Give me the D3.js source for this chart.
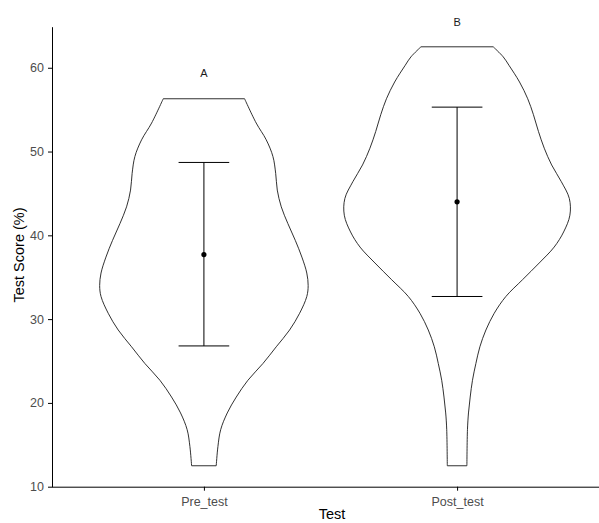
<!DOCTYPE html>
<head>
  <meta charset="utf-8">
  <title>Test Score Violin</title>
  <style>
    body { margin: 0; background: #fff; }
    .tick text { font-family: "Liberation Sans", Arial, sans-serif; font-size: 12.5px; fill: #4d4d4d; }
    .domain, .tick line { stroke: #000; }
  </style>
</head>
<body>
  <script src="https://cdn.jsdelivr.net/npm/d3@7/dist/d3.min.js"></script>
  <script>
    // data
    var groups = ["Pre_test", "Post_test"];
    var letters = ["A", "B"];
    var means = [37.7, 44.0];
    var lowerCI = [26.8, 32.7];
    var upperCI = [48.7, 55.3];
    var yTicks = [10, 20, 30, 40, 50, 60];

    // violin outlines: score and relative density (1 = widest violin)
    var preScore   = [12.5, 14.8, 16.8, 18.8, 20.7, 22.7, 24.7, 26.7, 28.7, 30.7, 32.7, 34.0, 35.5, 37.4, 39.4, 41.4, 43.4, 45.4, 47.4, 49.4, 51.4, 53.4, 56.3];
    var preDensity = [0.108, 0.123, 0.147, 0.205, 0.284, 0.386, 0.518, 0.635, 0.752, 0.840, 0.903, 0.915, 0.903, 0.860, 0.802, 0.737, 0.679, 0.644, 0.630, 0.606, 0.547, 0.459, 0.357];
    var postScore   = [12.5, 16.8, 18.8, 20.7, 22.7, 24.7, 26.7, 28.7, 30.7, 32.7, 34.7, 36.7, 38.6, 40.4, 42.4, 44.4, 46.4, 48.4, 50.4, 52.4, 54.4, 56.3, 58.3, 60.3, 61.3, 62.5];
    var postDensity = [0.086, 0.091, 0.100, 0.115, 0.135, 0.165, 0.200, 0.253, 0.326, 0.428, 0.574, 0.721, 0.852, 0.935, 0.990, 0.985, 0.915, 0.830, 0.765, 0.714, 0.670, 0.620, 0.548, 0.455, 0.405, 0.317];

    var violins = [
      { score: preScore, density: preDensity },
      { score: postScore, density: postDensity }
    ];

    var width = 599, height = 523;
    var margin = { left: 52, top: 26.7, bottom: 486.7, right: 609 };

    var svg = d3.select("body").append("svg")
      .attr("width", width)
      .attr("height", height)
      .style("overflow", "hidden");

    var x = d3.scalePoint().domain(groups).range([margin.left, margin.right]).padding(0.6);
    var y = d3.scaleLinear().domain([10, 64.9]).range([margin.bottom, margin.top]);
    var w = d3.scaleLinear().domain([0, 1]).range([0, x.step() * 0.45]);

    // violins
    violins.forEach(function (v, i) {
      var cx = x(groups[i]);
      var pts = v.score.map(function (s, j) { return { s: s, d: v.density[j] }; });
      var area = d3.area()
        .curve(d3.curveCatmullRom.alpha(0.5))
        .y(function (d) { return y(d.s); })
        .x0(function (d) { return cx - w(d.d); })
        .x1(function (d) { return cx + w(d.d); });
      svg.append("path")
        .datum(pts)
        .attr("d", area)
        .attr("fill", "none")
        .attr("stroke", "#1a1a1a")
        .attr("stroke-width", 0.9);
    });

    // error bars
    var capHalf = x.step() * 0.1;
    groups.forEach(function (g, i) {
      var cx = x(g);
      svg.append("line").attr("x1", cx).attr("x2", cx)
        .attr("y1", y(lowerCI[i])).attr("y2", y(upperCI[i]))
        .attr("stroke", "#000").attr("stroke-width", 1);
      [lowerCI[i], upperCI[i]].forEach(function (v) {
        svg.append("line").attr("x1", cx - capHalf).attr("x2", cx + capHalf)
          .attr("y1", y(v)).attr("y2", y(v))
          .attr("stroke", "#000").attr("stroke-width", 1);
      });
      svg.append("circle").attr("cx", cx).attr("cy", y(means[i])).attr("r", 2.6).attr("fill", "#000");

      // group letter above the violin
      svg.append("text")
        .attr("x", cx)
        .attr("y", y(d3.max(violins[i].score) + 3))
        .attr("dy", "0.35em")
        .attr("text-anchor", "middle")
        .style("font-family", "'Liberation Sans', Arial, sans-serif")
        .style("font-size", "11px")
        .style("fill", "#1a1a1a")
        .text(letters[i]);
    });

    // axes
    svg.append("g")
      .attr("transform", "translate(" + margin.left + ",0)")
      .call(d3.axisLeft(y).tickValues(yTicks).tickSize(4).tickPadding(4).tickSizeOuter(0));

    svg.append("g")
      .attr("transform", "translate(0," + margin.bottom + ")")
      .call(d3.axisBottom(x).tickSize(4).tickPadding(6.5).tickSizeOuter(0))
      .call(function (g) { g.select(".domain").attr("d", "M" + margin.left + ",0.5H" + margin.right); });

    svg.append("text")
      .attr("x", 332)
      .attr("y", 519)
      .attr("text-anchor", "middle")
      .style("font-family", "'Liberation Sans', Arial, sans-serif")
      .style("font-size", "14.5px")
      .text("Test");

    svg.append("text")
      .attr("transform", "translate(24,255) rotate(-90)")
      .attr("text-anchor", "middle")
      .style("font-family", "'Liberation Sans', Arial, sans-serif")
      .style("font-size", "14.5px")
      .text("Test Score (%)");
  </script>
</body>
